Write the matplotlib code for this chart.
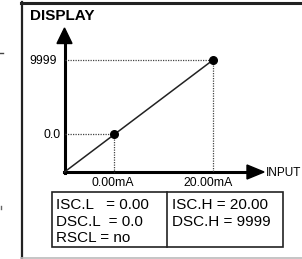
import matplotlib.pyplot as plt
from matplotlib.patches import Rectangle, Polygon

plt.rcParams['font.family'] = 'Liberation Sans'

# Scala: input (mA) -> display
input_pts = [0.00, 20.00]
display_pts = [0.0, 9999]
input_labels = ['0.00mA', '20.00mA']
display_labels = ['0.0', '9999']

left_rows = ['ISC.L   = 0.00', 'DSC.L  = 0.0', 'RSCL = no']
right_rows = ['ISC.H = 20.00', 'DSC.H = 9999']

# Figura in pixel
W, H = 302, 259
fig = plt.figure(figsize=(W / 100, H / 100), dpi=100)
ax = fig.add_axes([0, 0, 1, 1])
ax.set_xlim(0, W)
ax.set_ylim(H, 0)
ax.axis('off')

# Cornice
ax.plot([21, W], [2.5, 2.5], color='#222222', lw=2.2)
ax.plot([21.5, 21.5], [2, 258], color='#222222', lw=1.6)
ax.plot([21, W], [258, 258], color='#bbbbbb', lw=1.2)
ax.plot([0, 3], [53, 53], color='#444444', lw=1)
ax.plot([1, 1], [206, 209], color='#666666', lw=1)

ax.text(30, 16, 'DISPLAY', fontsize=11, fontweight='bold', va='center', ha='left')

# Assi del grafico (origine e scala in pixel)
x0, y0 = 64.5, 172
sx = (213 - x0)    # 20 mA
sy = (y0 - 60)     # 9999

def px(v):
    return x0 + 49 + (v - input_pts[0]) / (input_pts[1] - input_pts[0]) * (sx - 49)

def py(v):
    return y0 - 38 - (v - display_pts[0]) / (display_pts[1] - display_pts[0]) * (sy - 38)

ax.plot([x0, x0], [y0 + 1, 42], color='black', lw=2.2)
ax.add_patch(Polygon([[x0 - 7.5, 43.5], [x0 + 7.5, 43.5], [x0, 28]], closed=True, color='black'))
ax.plot([x0 - 1, 248], [y0, y0], color='black', lw=2.2)
ax.add_patch(Polygon([[247, y0 - 7], [247, y0 + 7], [264, y0]], closed=True, color='black'))
ax.text(266, y0 + 1, 'INPUT', fontsize=8.5, va='center', ha='left')

# Linea di scala
xs = [px(v) for v in input_pts]
ys = [py(v) for v in display_pts]
ax.plot([x0, xs[1]], [y0, ys[1]], color='#222222', lw=1.1)
ax.scatter(xs, ys, s=30, color='black', zorder=5)

for xp, yp, xl, yl, dx, dy in zip(xs, ys, input_labels, display_labels, [-1, -5], [-4, -8]):
    ax.plot([x0, xp], [yp, yp], color='#444444', lw=0.9, ls=(0, (1, 1)))
    ax.plot([xp, xp], [yp, y0], color='#444444', lw=0.9, ls=(0, (1, 1)))
    ax.text(x0 + dy, yp + 1, yl, fontsize=8.8, va='center', ha='right')
    ax.text(xp + dx, y0 + 11, xl, fontsize=8.8, va='center', ha='center')

# Tabella parametri
ax.add_patch(Rectangle((52, 192), 231, 55, fill=False, ec='#222222', lw=1.2))
ax.plot([167, 167], [192, 247], color='#222222', lw=1.2)
for i, t in enumerate(left_rows):
    ax.text(56, 205 + 16.5 * i, t, fontsize=11, va='center', ha='left')
for i, t in enumerate(right_rows):
    ax.text(172, 205 + 16.5 * i, t, fontsize=11, va='center', ha='left')

fig.savefig('out.png', dpi=100)
